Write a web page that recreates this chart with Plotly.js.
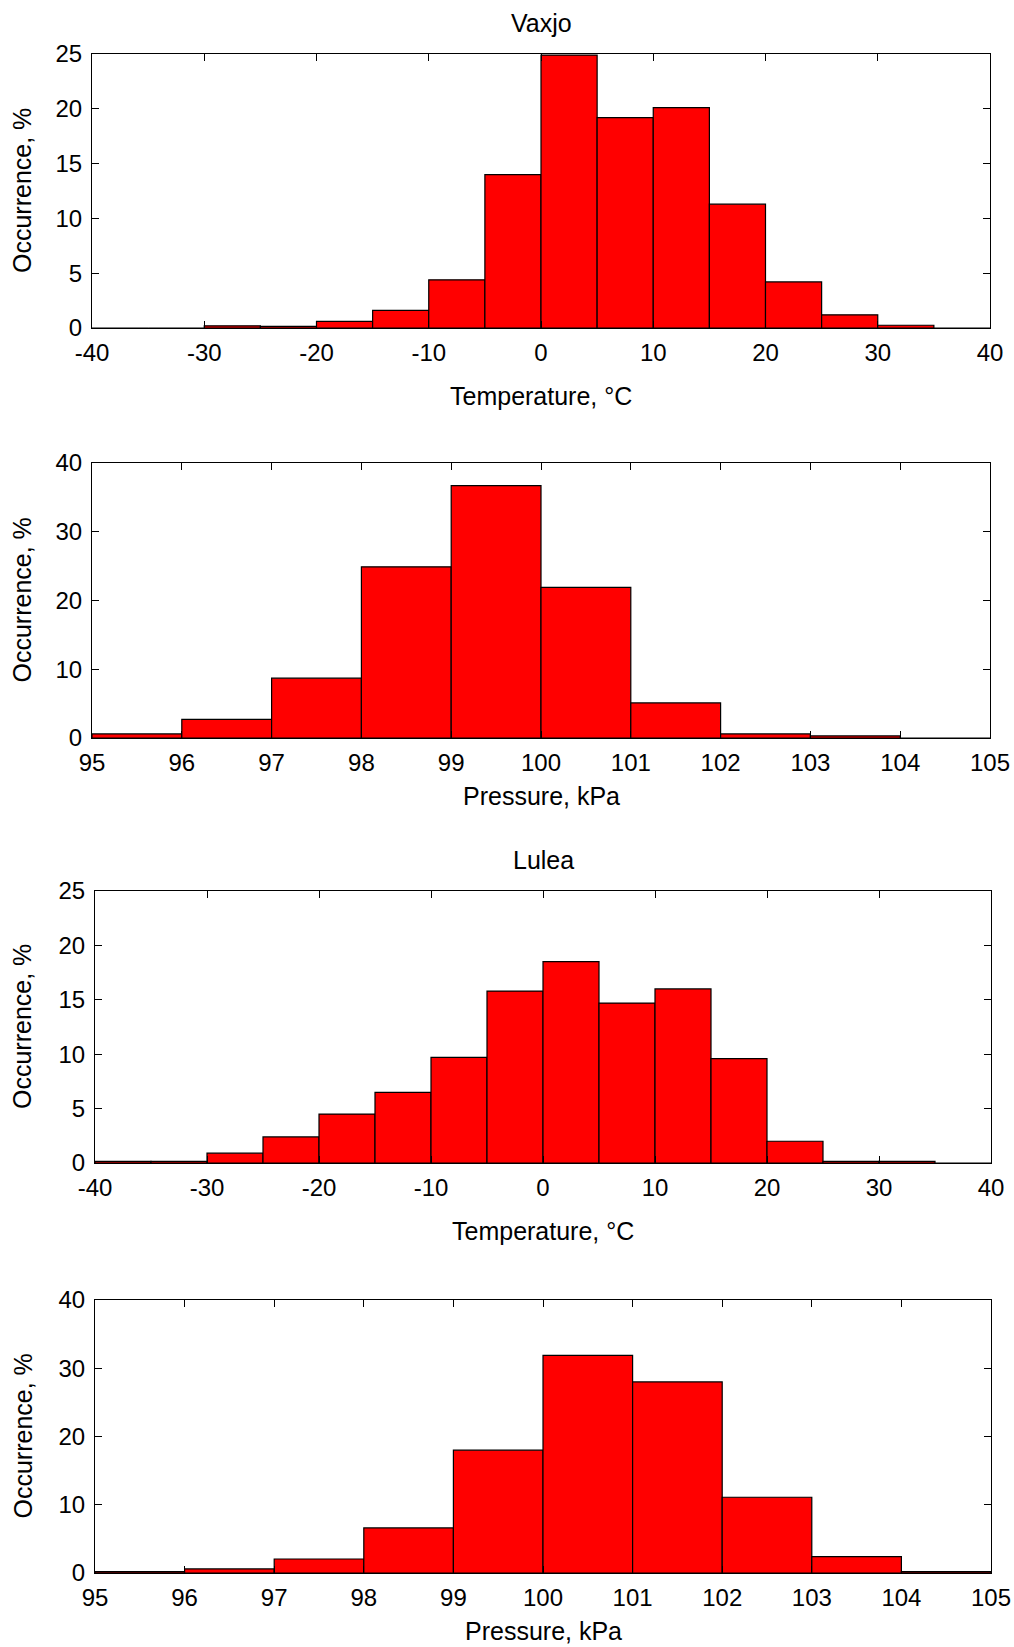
<!DOCTYPE html>
<html><head><meta charset="utf-8">
<script src="https://cdn.plot.ly/plotly-3.0.1.min.js"></script>
<style>html,body{margin:0;padding:0;background:#fff;}#chart{width:1014px;height:1647px;}</style>
</head><body><div id="chart"></div>
<script>
// ---- data ----
const tempBinCenters = [-37.5,-32.5,-27.5,-22.5,-17.5,-12.5,-7.5,-2.5,2.5,7.5,12.5,17.5,22.5,27.5,32.5,37.5];
const tempBinWidth = 5;
const vaxjoTemp = [0,0,0.2,0.15,0.6,1.6,4.4,14.0,24.9,19.2,20.1,11.3,4.2,1.2,0.25,0];
const luleaTemp = [0.15,0.15,0.9,2.4,4.5,6.5,9.7,15.8,18.5,14.7,16.0,9.6,2.0,0.15,0.15,0];

const pressBinCenters = [95.5,96.5,97.5,98.5,99.5,100.5,101.5,102.5,103.5,104.5];
const pressBinWidth = 1;
const vaxjoPress = [0.6,2.7,8.7,24.9,36.7,21.9,5.1,0.6,0.3,0];
const luleaPress = [0.2,0.6,2.05,6.6,18.0,31.9,28.0,11.1,2.4,0.2];

const tempTickVals = [-40,-30,-20,-10,0,10,20,30,40];
const tempTickText = ['-40','-30','-20','-10','0','10','20','30','40'];
const pressTickVals = [95,96,97,98,99,100,101,102,103,104,105];
const pressTickText = ['95','96','97','98','99','100','101','102','103','104','105'];
const tempYTicks = [0,5,10,15,20,25];
const pressYTicks = [0,10,20,30,40];

const stationTitles = ['Vaxjo','Lulea'];
const tempLabel = 'Temperature, \u00B0C';
const pressLabel = 'Pressure, kPa';
const yLabel = 'Occurrence, %';

// ---- layout geometry (pixels) ----
const W = 1014, H = 1647;
const panels = [
  {x0:92, x1:990, y0:54,   y1:328},
  {x0:92, x1:990, y0:463,  y1:738},
  {x0:95, x1:991, y0:891,  y1:1163},
  {x0:95, x1:991, y0:1300, y1:1573}
];
const FONT = 'Liberation Sans, Arial, Helvetica, sans-serif';

function bar(x, y, w, ax) {
  return {type:'bar', x:x, y:y, width:w, xaxis:'x'+ax, yaxis:'y'+ax,
    marker:{color:'#ff0000', line:{color:'#000', width:1.2}}, hoverinfo:'x+y', showlegend:false};
}
const data = [
  bar(tempBinCenters, vaxjoTemp, tempBinWidth, ''),
  bar(pressBinCenters, vaxjoPress, pressBinWidth, '2'),
  bar(tempBinCenters, luleaTemp, tempBinWidth, '3'),
  bar(pressBinCenters, luleaPress, pressBinWidth, '4')
];

function axBase() {
  return {showline:true, mirror:'ticks', linecolor:'#000', linewidth:1,
    ticks:'inside', ticklen:7, tickwidth:1, tickcolor:'#000',
    showgrid:false, zeroline:false, fixedrange:true,
    tickfont:{family:FONT, size:24, color:'#000'}};
}
const layout = {width:W, height:H, margin:{l:0,r:0,t:0,b:0},
  paper_bgcolor:'#fff', plot_bgcolor:'#fff', bargap:0, showlegend:false,
  font:{family:FONT, color:'#000'}, annotations:[]};

const kinds = ['t','p','t','p'];
panels.forEach((p, i) => {
  const s = i === 0 ? '' : String(i+1);
  const xa = axBase(), ya = axBase();
  xa.domain = [p.x0/W, p.x1/W];
  ya.domain = [1 - p.y1/H, 1 - p.y0/H];
  xa.anchor = 'y'+s; ya.anchor = 'x'+s;
  if (kinds[i] === 't') {
    xa.range = [-40,40]; xa.tickvals = tempTickVals; xa.ticktext = tempTickText;
    ya.range = [0,25]; ya.tickvals = tempYTicks;
  } else {
    xa.range = [95,105]; xa.tickvals = pressTickVals; xa.ticktext = pressTickText;
    ya.range = [0,40]; ya.tickvals = pressYTicks;
  }
  xa.ticklabelstandoff = 3;
  ya.ticklabelstandoff = 4;
  layout['xaxis'+s] = xa; layout['yaxis'+s] = ya;
  // x title
  const xt = kinds[i] === 't' ? tempLabel : pressLabel;
  const xOff = kinds[i] === 't' ? 68 : 58;
  layout.annotations.push({text:xt, xref:'paper', yref:'paper', showarrow:false,
    x:(p.x0+p.x1)/2/W, y:1-(p.y1+xOff)/H, xanchor:'center', yanchor:'middle',
    font:{family:FONT, size:25, color:'#000'}});
  // y title
  layout.annotations.push({text:yLabel, xref:'paper', yref:'paper', showarrow:false,
    x:22/W, y:1-((p.y0+p.y1)/2)/H, xanchor:'center', yanchor:'middle', textangle:-90,
    font:{family:FONT, size:25, color:'#000'}});
});
// station titles
layout.annotations.push({text:stationTitles[0], xref:'paper', yref:'paper', showarrow:false,
  x:(92+990)/2/W, y:1-23/H, xanchor:'center', yanchor:'middle', font:{family:FONT, size:25, color:'#000'}});
layout.annotations.push({text:stationTitles[1], xref:'paper', yref:'paper', showarrow:false,
  x:(95+991)/2/W, y:1-860/H, xanchor:'center', yanchor:'middle', font:{family:FONT, size:25, color:'#000'}});

Plotly.newPlot('chart', data, layout, {displayModeBar:false, staticPlot:true});
</script>
</body></html>
